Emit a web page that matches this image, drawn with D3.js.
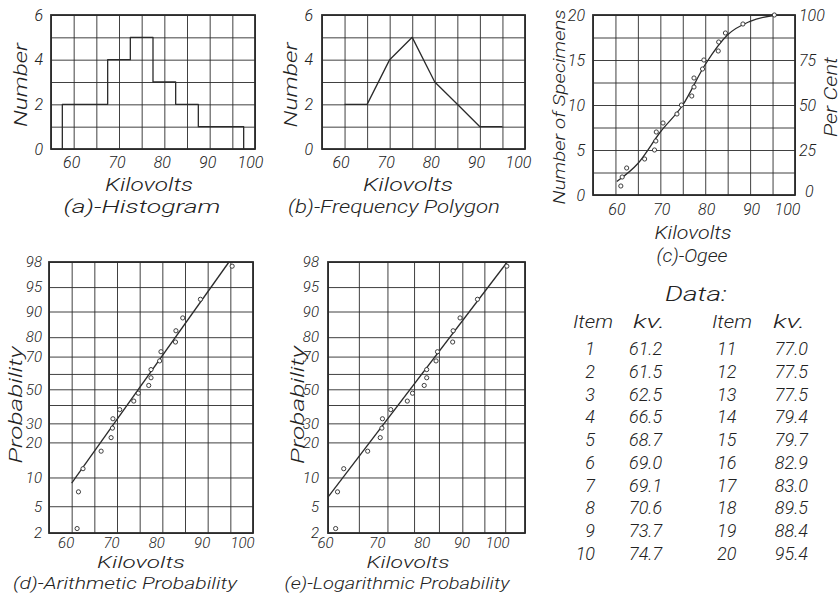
<!DOCTYPE html>
<html><head><meta charset="utf-8">
<script src="https://cdn.jsdelivr.net/npm/d3@7"></script>
<style>
body{margin:0;background:#fff}
svg text{font-family:"Roboto","Liberation Sans",Arial,sans-serif;font-style:italic;font-weight:300;fill:#222}
</style></head><body>
<svg id="c" width="840" height="598"></svg>
<script>
// ---------------- data ----------------
const kvGrid = [55,60,65,70,75,80,85,90,95,100];
const kvTicks = [60,70,80,90,100];
const logKvGrid = [60,65,70,75,80,85,90,95,100];

// (a) histogram
const binEdges = [57.5,62.5,67.5,72.5,77.5,82.5,87.5,92.5,97.5];
const binCounts = [2,2,4,5,3,2,1,1];
const countGridA = [0,1,2,3,4,5,6];
const countTicksA = [0,2,4,6];

// (b) frequency polygon
const polyKv = [60,65,70,75,80,85,90,95];
const polyCounts = [2,2,4,5,3,2,1,1];

// (c) ogee
const itemNo = [1,2,3,4,5,6,7,8,9,10,11,12,13,14,15,16,17,18,19,20];
const kvPlotted = [61.2,61.5,62.5,66.5,68.7,69.0,69.1,70.6,73.7,74.7,77.0,77.5,77.5,79.4,79.7,82.9,83.0,84.5,88.4,95.4];
const cumCount = [1,2,3,4,5,6,7,8,9,10,11,12,13,14,15,16,17,18,19,20];
const ogeeCurveKv = [60.3,65,70,75,80,85,90,96];
const ogeeCurveCount = [1.5,3.5,7.0,10.0,14.5,17.8,19.3,20.0];
const countGridC = [0,2.5,5,7.5,10,12.5,15,17.5,20];
const countTicksC = [0,5,10,15,20];
const percentTicks = [0,25,50,75,100];

// (d),(e) probability
const probPos = [2.5,7.5,12.5,17.5,22.5,27.5,32.5,37.5,42.5,47.5,52.5,57.5,62.5,67.5,72.5,77.5,82.5,87.5,92.5,97.5];
const probGrid = [98,95,90,80,70,60,50,40,30,20,10,5,2];
const probTicks = [98,95,90,80,70,50,30,20,10,5,2];
const arithLineKv = [60,94.7];
const arithLineProb = [9,98];
const logLineKv = [60,95.5];
const logLineProb = [6.6,98];

// data table
const tableItems1 = ["1","2","3","4","5","6","7","8","9","10"];
const tableKv1 = ["61.2","61.5","62.5","66.5","68.7","69.0","69.1","70.6","73.7","74.7"];
const tableItems2 = ["11","12","13","14","15","16","17","18","19","20"];
const tableKv2 = ["77.0","77.5","77.5","79.4","79.7","82.9","83.0","89.5","88.4","95.4"];

// ---------------- drawing ----------------
const INK = "#2b2b2b";
const svg = d3.select("#c");

function grid(box, x, y, xv, yv) {
  const g = svg.append("g");
  g.append("g").attr("transform", `translate(0,${box.b})`)
    .call(d3.axisBottom(x).tickValues(xv).tickSize(box.t - box.b).tickFormat(""));
  g.append("g").attr("transform", `translate(${box.l},0)`)
    .call(d3.axisLeft(y).tickValues(yv).tickSize(box.l - box.r).tickFormat(""));
  g.selectAll(".domain").remove();
  g.selectAll(".tick line").attr("stroke", INK).attr("stroke-width", 0.9);
  g.append("rect").attr("x", box.l).attr("y", box.t)
    .attr("width", box.r - box.l).attr("height", box.b - box.t)
    .attr("fill", "none").attr("stroke", INK).attr("stroke-width", 1.8);
  return g;
}
function styleAxis(g, size) {
  g.attr("font-size", size).attr("font-family", null);
  g.select(".domain").remove();
  g.selectAll(".tick line").remove();
}
function xLabels(box, x, values, pad, dx, dxLast, size) {
  svg.append("g").attr("transform", `translate(0,${box.b})`)
    .call(d3.axisBottom(x).tickValues(values).tickSize(0).tickPadding(pad).tickFormat(d3.format("d")))
    .call(g => styleAxis(g, size))
    .call(g => g.selectAll("text").attr("dx", (d, i, n) => i === n.length - 1 ? dxLast : dx));
}
function yLabels(box, y, values, pad, size, fmt) {
  svg.append("g").attr("transform", `translate(${box.l},0)`)
    .call(d3.axisLeft(y).tickValues(values).tickSize(0).tickPadding(pad).tickFormat(fmt || d3.format("d")))
    .call(g => styleAxis(g, size));
}
function txt(x, y, s, size, len, rot) {
  const t = svg.append("text").attr("x", x).attr("y", y).attr("dy", "0.36em")
    .attr("text-anchor", "middle").attr("font-size", size).text(s);
  if (len) t.attr("textLength", len).attr("lengthAdjust", "spacingAndGlyphs");
  if (rot) t.attr("transform", `rotate(${rot},${x},${y})`);
  return t;
}
function dots(x, y, xs, ys) {
  svg.append("g").selectAll("circle").data(d3.zip(xs, ys)).join("circle")
    .attr("cx", d => x(d[0])).attr("cy", d => y(d[1])).attr("r", 2.1)
    .attr("fill", "#fff").attr("stroke", INK).attr("stroke-width", 0.9);
}
function path(d) {
  svg.append("path").attr("d", d).attr("fill", "none").attr("stroke", INK)
    .attr("stroke-width", 1.3).attr("stroke-linejoin", "round");
}

// ---- (a) Histogram ----
const boxA = {l:51, r:255, t:15, b:149};
const xA = d3.scaleLinear().domain([55,100]).range([boxA.l, boxA.r]);
const yA = d3.scaleLinear().domain([0,6]).range([boxA.b, boxA.t]);
grid(boxA, xA, yA, kvGrid, countGridA);
const histPts = [[binEdges[0], 0]];
binCounts.forEach((c, i) => { histPts.push([binEdges[i], c], [binEdges[i+1], c]); });
histPts.push([binEdges[binEdges.length-1], 0]);
path(d3.line().x(d => xA(d[0])).y(d => yA(d[1]))(histPts));
xLabels(boxA, xA, kvTicks, 8, -2.5, -5, 16);
yLabels(boxA, yA, countTicksA, 8, 16);
txt(21, 85, "Number", 18, 84, -90);
txt(149, 185, "Kilovolts", 18, 88);
txt(142, 207, "(a)-Histogram", 18, 157);

// ---- (b) Frequency polygon ----
const boxB = {l:322, r:525, t:15, b:149};
const xB = d3.scaleLinear().domain([55,100]).range([boxB.l, boxB.r]);
const yB = d3.scaleLinear().domain([0,6]).range([boxB.b, boxB.t]);
grid(boxB, xB, yB, kvGrid, countGridA);
path(d3.line().x(d => xB(d[0])).y(d => yB(d[1]))(d3.zip(polyKv, polyCounts)));
xLabels(boxB, xB, kvTicks, 8, -4, -7, 16);
yLabels(boxB, yB, countTicksA, 9, 16);
txt(291, 85, "Number", 18, 85, -90);
txt(408, 185, "Kilovolts", 18, 90);
txt(394, 207, "(b)-Frequency Polygon", 18, 212);

// ---- (c) Ogee ----
const boxC = {l:593, r:795, t:15, b:195};
const xC = d3.scaleLinear().domain([55,100]).range([boxC.l, boxC.r]);
const yC = d3.scaleLinear().domain([0,20]).range([boxC.b, boxC.t]);
const yCp = d3.scaleLinear().domain([0,100]).range([boxC.b, boxC.t]);
grid(boxC, xC, yC, kvGrid, countGridC);
path(d3.line().x(d => xC(d[0])).y(d => yC(d[1])).curve(d3.curveMonotoneX)(d3.zip(ogeeCurveKv, ogeeCurveCount)));
dots(xC, yC, kvPlotted, cumCount);
xLabels(boxC, xC, kvTicks, 9, 1, -8, 16);
yLabels(boxC, yC, countTicksC, 8, 16);
svg.append("g").attr("transform", `translate(${boxC.r},0)`)
  .call(d3.axisRight(yCp).tickValues(percentTicks).tickSize(0).tickPadding(4))
  .call(g => styleAxis(g, 16))
  .call(g => g.selectAll("text").attr("dx", d => d === 0 ? 6 : 0).attr("dy", d => d === 0 ? "0.1em" : "0.32em"));
txt(559, 107, "Number of Specimens", 17, 195, -90);
txt(831, 97, "Per Cent", 18, 80, -90);
txt(693, 233, "Kilovolts", 18, 77);
txt(692, 256, "(c)-Ogee", 18, 71);

// ---- probability ruling (hand-ruled paper, fraction of height from top) ----
const ruling = [0,0.0925,0.1827,0.2774,0.349,0.413,0.4697,0.5277,0.5954,0.6657,0.7951,0.9012,1];
function probScale(box) {
  return d3.scaleLinear().domain(probGrid).range(ruling.map(f => box.t + f * (box.b - box.t)));
}

// ---- (d) Arithmetic probability ----
const boxD = {l:49, r:253, t:262, b:533};
const xD = d3.scaleLinear().domain([55,100]).range([boxD.l, boxD.r]);
const yD = probScale(boxD);
grid(boxD, xD, yD, kvGrid, probGrid);
path(d3.line().x(d => xD(d[0])).y(d => yD(d[1]))(d3.zip(arithLineKv, arithLineProb)));
dots(xD, yD, kvPlotted, probPos);
xLabels(boxD, xD, kvTicks, 4, -6, -11, 15);
yLabels(boxD, yD, probTicks, 7, 15);
txt(16, 405, "Probability", 18, 117, -90);
txt(141, 562, "Kilovolts", 17, 88);
txt(125, 583, "(d)-Arithmetic Probability", 17, 224);

// ---- (e) Logarithmic probability ----
const boxE = {l:328, r:525, t:262, b:533};
const xE = d3.scaleLog().domain([60,100]).range([boxE.l, boxE.r]);
const xELab = d3.scaleLog().domain([60,100]).range([boxE.l - 3, boxE.r - 28]);
const yE = probScale(boxE);
grid(boxE, xE, yE, logKvGrid, probGrid);
path(d3.line().x(d => xE(d[0])).y(d => yE(d[1]))(d3.zip(logLineKv, logLineProb)));
dots(xE, yE, kvPlotted, probPos);
xLabels(boxE, xELab, kvTicks, 4, 0, 0, 15);
yLabels(boxE, yE, probTicks, 9, 15);
txt(298, 405, "Probability", 18, 118, -90);
txt(408, 562, "Kilovolts", 17, 83);
txt(397, 583, "(e)-Logarithmic Probability", 17, 225);

// ---- Data table ----
txt(696, 294, "Data:", 20, 62);
txt(593, 322, "Item", 18, 40);
txt(649, 322, "kv.", 18, 32);
txt(732, 322, "Item", 18, 40);
txt(789, 322, "kv.", 18, 32);
const rowY = d3.scalePoint().domain(d3.range(10)).range([355, 560]);
function col(values, x, anchor) {
  svg.append("g").selectAll("text").data(values).join("text")
    .attr("x", x).attr("y", (d, i) => rowY(i)).attr("text-anchor", anchor)
    .attr("font-size", 18).text(d => d);
}
col(tableItems1, 595, "end");
col(tableKv1, 629, "start");
col(tableItems2, 717, "start");
col(tableKv2, 808, "end");
</script>
</body></html>
